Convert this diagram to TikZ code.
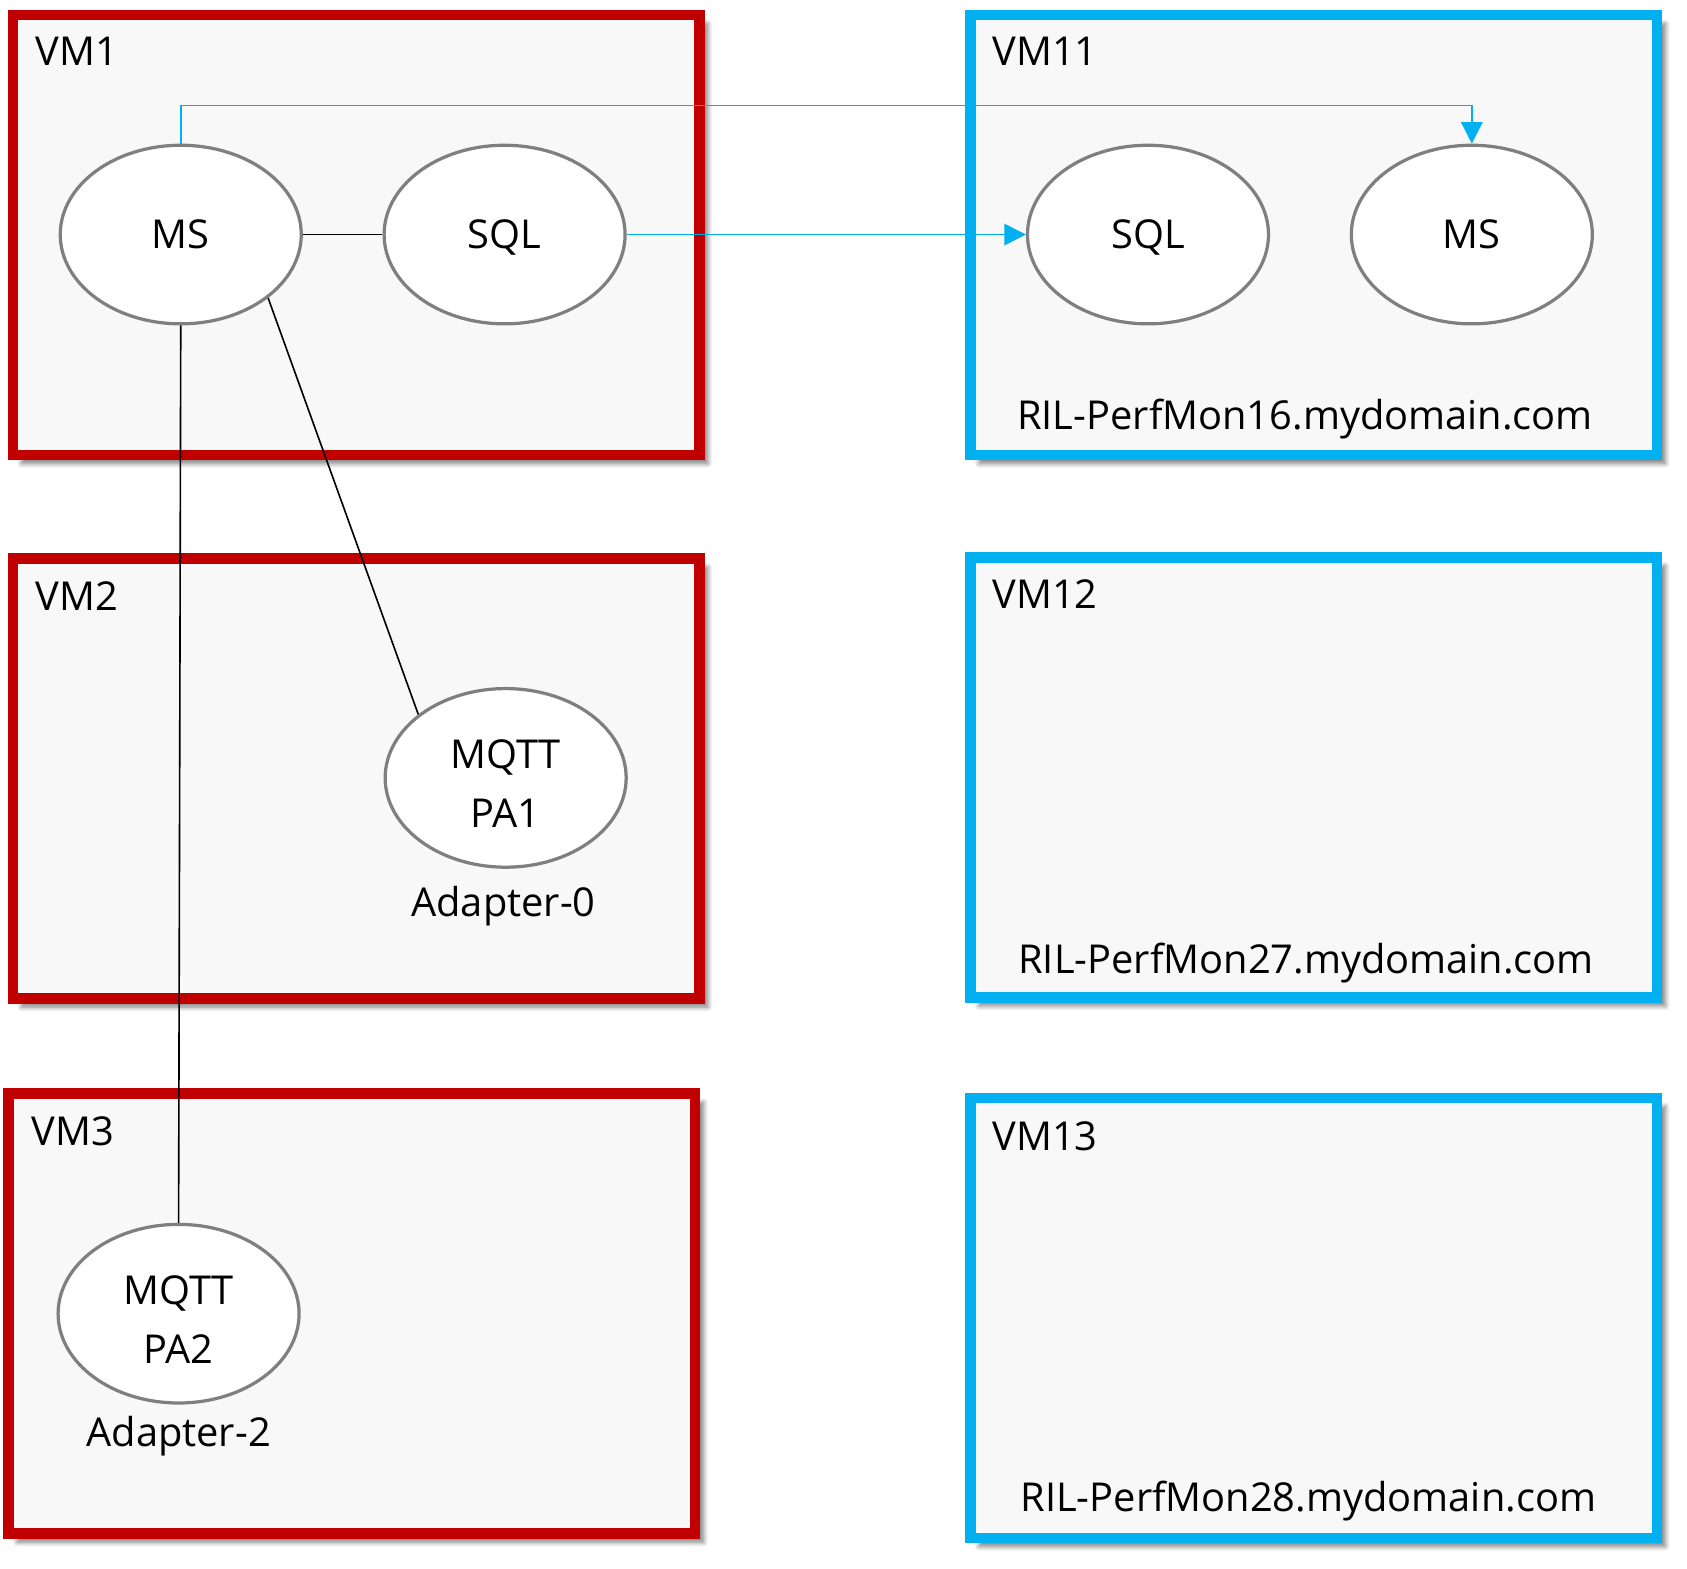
\documentclass[tikz,border=0pt]{standalone}
\usepackage{fontspec}
\setmainfont{Open Sans}
\usetikzlibrary{arrows.meta,shadows.blur,shapes.geometric}
\definecolor{vmred}{HTML}{C00000}
\definecolor{vmblue}{HTML}{00B0F0}
\definecolor{boxfill}{HTML}{F8F8F8}
\definecolor{ringgray}{HTML}{7F7F7F}
\tikzset{
  vmbox/.style={rectangle,line width=5pt,fill=boxfill,minimum width=319pt,minimum height=204.5pt,
    blur shadow={shadow xshift=4pt,shadow yshift=-4pt,shadow blur steps=8,shadow opacity=50}},
  redbox/.style={vmbox,draw=vmred},
  bluebox/.style={vmbox,draw=vmblue},
  svc/.style={ellipse,draw=ringgray,line width=1.5pt,fill=white,minimum width=112pt,minimum height=83pt,
    inner sep=0pt,align=center},
  lbl/.style={anchor=base west,inner sep=0pt},
  host/.style={anchor=base,inner sep=0pt},
  wire/.style={black,line width=0.75pt},
  link/.style={vmblue,line width=0.7pt,-{Triangle[length=10pt,width=10pt]}}
}
\begin{document}
\begin{tikzpicture}[x=0.5pt,y=-0.5pt,font=\fontsize{18.5}{27.5}\selectfont]
\useasboundingbox (0,0) rectangle (1568,1458);
% machine boxes
\node[redbox] (vm1) at (331,218.5) {};
\node[redbox] (vm2) at (331,723.5) {};
\node[redbox] (vm3) at (327,1221) {};
\node[bluebox] (vm11) at (1221,218.5) {};
\node[bluebox] (vm12) at (1221,722.5) {};
\node[bluebox] (vm13) at (1221,1225) {};
\node[lbl] (t1) at (33,61) {VM1};
\node[lbl] (t2) at (33,567) {VM2};
\node[lbl] (t3) at (29,1065) {VM3};
\node[lbl] (t11) at (922,61) {VM11};
\node[lbl] (t12) at (922,566) {VM12};
\node[lbl] (t13) at (922,1069) {VM13};
\node[host] (h16) at (1213,399) {RIL-PerfMon16.mydomain.com};
\node[host] (h27) at (1214,905) {RIL-PerfMon27.mydomain.com};
\node[host] (h28) at (1216,1405) {RIL-PerfMon28.mydomain.com};
% services
\node[svc] (ms1) at (168,218) {MS};
\node[svc,text depth=0pt] (sql1) at (469,218) {SQL};
\node[svc,text depth=0pt] (sql11) at (1067,218) {SQL};
\node[svc] (ms11) at (1368,218) {MS};
\node[svc] (pa1) at (470,723) {\rule{0pt}{18.5pt}MQTT\\PA1};
\node[svc] (pa2) at (166,1221) {\rule{0pt}{18.5pt}MQTT\\PA2};
\node[host] (ad0) at (468,852) {Adapter-0};
\node[host] (ad2) at (166,1344) {Adapter-2};
% connections
\coordinate (bend) at (168,98);
\draw[wire] (ms1) -- (sql1);
\draw[wire] (ms1.-36) -- (pa1.144);
\draw[wire] (ms1.south) -- (pa2.north);
\draw[link] (ms1.north) -- (bend) -| (ms11.north);
\draw[link] (sql1.east) -- (sql11.west);
\end{tikzpicture}
\end{document}
